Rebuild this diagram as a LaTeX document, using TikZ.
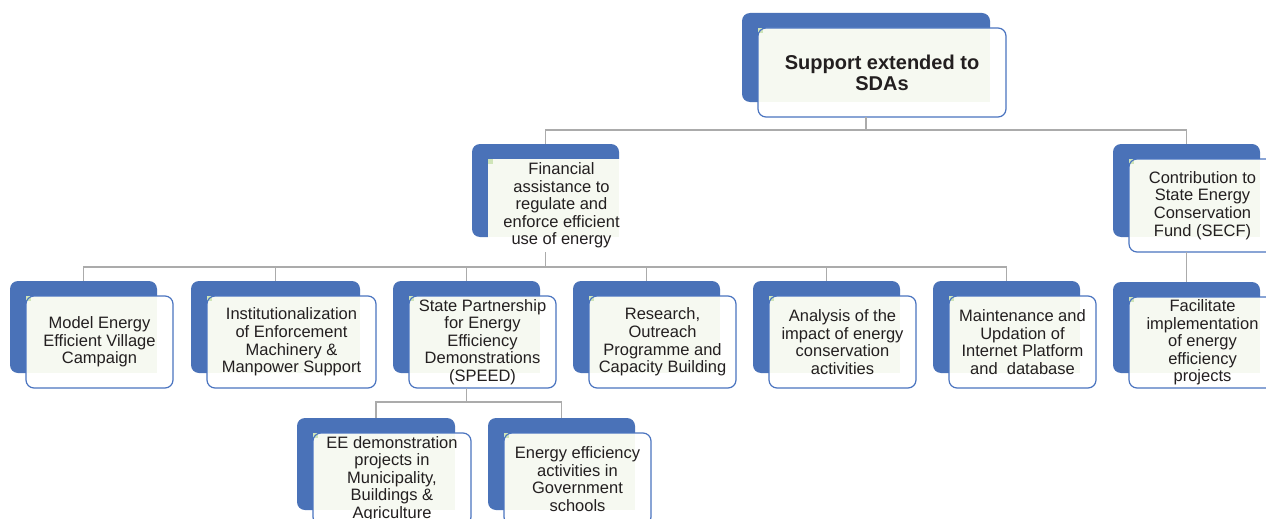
\documentclass[tikz,border=0pt]{standalone}
\usepackage{fontspec}
\setmainfont{Liberation Sans}
\definecolor{bluefill}{HTML}{4A72B8}
\definecolor{blueline}{HTML}{4A74C0}
\definecolor{lightfill}{HTML}{F6F9F1}
\definecolor{greencorner}{HTML}{CFE5B8}
\definecolor{connc}{HTML}{ABABAB}
\definecolor{txt}{HTML}{231F20}
\tikzset{
  backbox/.style={fill=bluefill, draw=none, rounded corners=8pt, inner sep=0pt, outer sep=0pt, anchor=north west},
  frontbox/.style={draw=blueline, line width=1.2pt, rounded corners=8pt, inner sep=0pt, outer sep=0pt, anchor=north west, align=center, text=txt, font=\fontsize{16.5}{17.6}\selectfont},
  titlefont/.style={font=\bfseries\fontsize{20}{21}\selectfont},
  noline/.style={draw=none},
  conn/.style={draw=connc, line width=1.5pt},
}
\newcommand\orgbox[7]{%
  \node[backbox, minimum width=#4, minimum height=#5] (#1b) at (#2,#3) {};
  \fill[white, rounded corners=8pt] (#2+16,#3+15) rectangle ++(#4,#5);
  \fill[lightfill] (#2+16,#3+15) rectangle (#2+#4,#3+#5);
  \fill[greencorner] (#2+16,#3+15) rectangle ++(5,5);
  \node[frontbox, minimum width=#4, minimum height=#5, #7] (#1) at (#2+16,#3+15) {#6};
}
\begin{document}
\begin{tikzpicture}[x=1pt, y=-1pt]
\useasboundingbox (0,0) rectangle (1266,519);
\fill[white] (0,0) rectangle (1266,519);
% boxes
\orgbox{top}{742}{13}{248}{89}{Support extended to\\SDAs}{titlefont}
\orgbox{fin}{472}{144}{147}{93}{Financial\\assistance to\\regulate and\\enforce efficient\\use of energy}{noline}
\orgbox{con}{1113}{144}{147}{93}{Contribution to\\State Energy\\Conservation\\Fund (SECF)}{}
\orgbox{fac}{1113}{282}{147}{91}{Facilitate\\implementation\\of energy\\efficiency\\projects}{}
\orgbox{ba}{10}{281}{147}{92}{Model Energy\\Efficient Village\\Campaign}{}
\orgbox{bb}{191}{281}{169}{92}{Institutionalization\\of Enforcement\\Machinery \&\\Manpower Support}{}
\orgbox{bc}{393}{281}{147}{92}{State Partnership\\for Energy\\Efficiency\\Demonstrations\\(SPEED)}{}
\orgbox{bd}{573}{281}{147}{92}{Research,\\Outreach\\Programme and\\Capacity Building}{}
\orgbox{be}{753}{281}{147}{92}{Analysis of the\\impact of energy\\conservation\\activities}{}
\orgbox{bf}{933}{281}{147}{92}{Maintenance and\\Updation of\\Internet Platform\\and\ \ database}{}
\orgbox{ee}{297}{418}{158}{92}{EE demonstration\\projects in\\Municipality,\\Buildings \&\\Agriculture}{}
\orgbox{sg}{488}{418}{147}{92}{Energy efficiency\\activities in\\Government\\schools}{}
% bus levels
\coordinate (bus1) at (0,130);
\coordinate (bus2) at (0,267);
\coordinate (bus3) at (0,402);
% connectors
\draw[conn] (topb.south |- top.south) -- (topb.south |- bus1);
\draw[conn] (finb.north) |- (bus1 -| conb.north) -- (conb.north);
\draw[conn] (conb.south |- con.south) -- (facb.north);
\draw[conn] (finb.south |- fin.south) -- (finb.south |- bus2);
\draw[conn] (bab.north) |- (bus2 -| bfb.north) -- (bfb.north);
\draw[conn] (bus2 -| bbb.north) -- (bbb.north);
\draw[conn] (bus2 -| bcb.north) -- (bcb.north);
\draw[conn] (bus2 -| bdb.north) -- (bdb.north);
\draw[conn] (bus2 -| beb.north) -- (beb.north);
\draw[conn] (bcb.south |- bc.south) -- (bcb.south |- bus3);
\draw[conn] (eeb.north) |- (bus3 -| sgb.north) -- (sgb.north);
\end{tikzpicture}
\end{document}
